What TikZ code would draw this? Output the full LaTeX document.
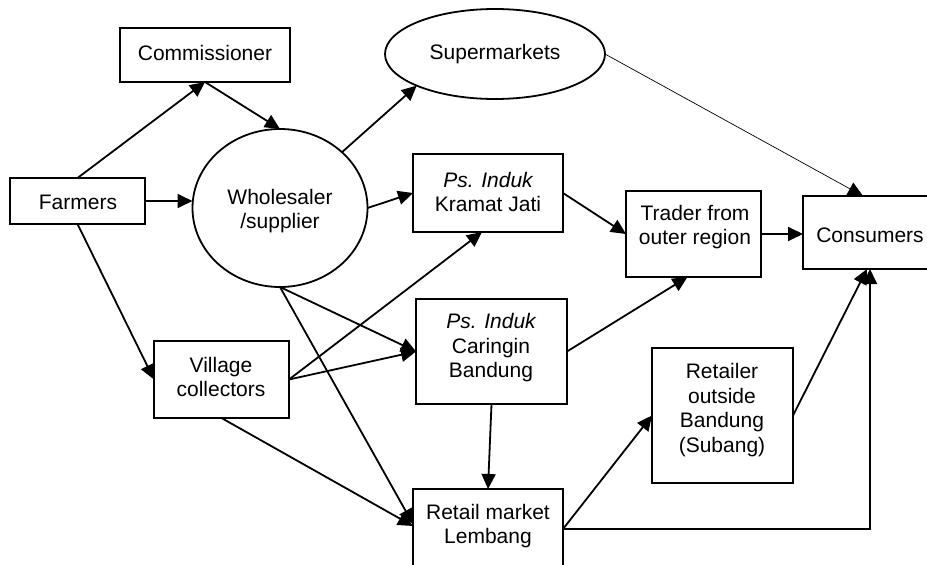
\documentclass[tikz,border=0pt]{standalone}
\usepackage{fontspec}
\setmainfont{Liberation Sans}
\usetikzlibrary{arrows.meta,shapes.geometric,calc}
\begin{document}
\begin{tikzpicture}[x=1pt,y=-1pt,
  box/.style={draw,line width=1.8pt,rectangle,inner sep=0pt,outer sep=0pt},
  oval/.style={draw,line width=1.8pt,ellipse,inner sep=0pt,outer sep=0pt},
  lbl/.style={align=center,inner sep=0pt,font=\fontsize{21}{24.5}\selectfont},
  arr/.style={line width=1.8pt,-{Triangle[length=15pt,width=14pt]}},
  thin/.style={line width=0.7pt,-{Triangle[length=15pt,width=14pt]}}]
\useasboundingbox (0,0) rectangle (927,565);
% boxes
\node[box,minimum width=170pt,minimum height=54pt] (com) at (205,55) {};
\node[oval,minimum width=220pt,minimum height=90pt] (super) at (495,54) {};
\node[box,minimum width=135pt,minimum height=46pt] (farm) at (77.5,201) {};
\node[oval,minimum width=175pt,minimum height=158pt] (whole) at (280,208) {};
\node[box,minimum width=150pt,minimum height=78pt] (kj) at (488,193) {};
\node[box,minimum width=135pt,minimum height=86pt] (trader) at (693.5,234) {};
\node[box,minimum width=134pt,minimum height=73pt] (cons) at (870,232.5) {};
\node[box,minimum width=135pt,minimum height=77pt] (vc) at (221.5,379.5) {};
\node[box,minimum width=151pt,minimum height=105pt] (car) at (491.5,351.5) {};
\node[box,minimum width=150pt,minimum height=80pt] (lem) at (488,529) {};
\node[box,minimum width=141pt,minimum height=135pt] (ret) at (722.5,415.5) {};
% labels
\node[lbl] (tcom) at (205,53) {Commissioner};
\node[lbl] (tsuper) at (495,54) {Supermarkets};
\node[lbl] (tfarm) at (78,202) {Farmers};
\node[lbl] (twhole) at (280,211) {Wholesaler\\/supplier};
\node[lbl] (tkj) at (488,192) {\itshape Ps. Induk\\Kramat Jati};
\node[lbl] (ttrader) at (695,227) {Trader from\\outer region};
\node[lbl] (tcons) at (870,235) {Consumers};
\node[lbl] (tvc) at (221,377) {Village\\collectors};
\node[lbl] (tcar) at (491,348) {\itshape Ps. Induk\\Caringin\\Bandung};
\node[lbl] (tlem) at (488,526) {Retail market\\Lembang};
\node[lbl] (tret) at (722,410) {Retailer\\outside\\Bandung\\(Subang)};
% connectors
\draw[arr] (farm.north) -- (com.south);
\draw[arr] (com.south) -- (whole.north);
\draw[arr] (farm.east) -- (farm.east -| whole.west);
\draw[arr] (whole.42) -- (super.202);
\draw[arr] (whole.east) -- (kj.west);
\draw[arr] (farm.south) -- (vc.west);
\draw[thin] (super.east) -- ([xshift=-7pt]cons.north);
\draw[arr] (kj.east) -- (trader.west);
\draw[arr] (trader.east) -- (trader.east -| cons.west);
\draw[arr] (car.east) -- ([xshift=-6pt]trader.south);
\draw[arr] (vc.east) -- ([xshift=-6pt]kj.south);
\draw[arr] (vc.east) -- (car.west);
\draw[arr] (whole.south) -- (car.west);
\draw[arr] (whole.south) -- ([yshift=5pt]lem.west);
\draw[arr] (vc.south) -- ([yshift=3pt]lem.west);
\draw[arr] (car.south) -- (lem.north);
\draw[arr] (lem.east) -- (ret.west);
\draw[arr] (lem.east) -| (cons.south);
\draw[arr] (ret.east) -- ([xshift=-3pt]cons.south);
\end{tikzpicture}
\end{document}
